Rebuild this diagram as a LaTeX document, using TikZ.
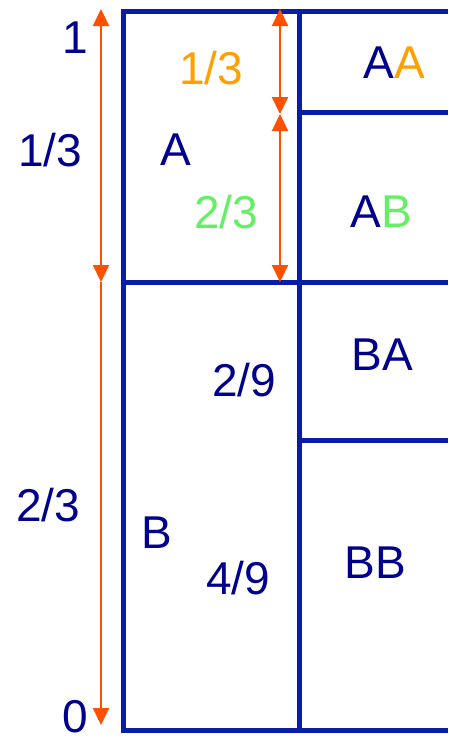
\documentclass[tikz,border=0pt]{standalone}
\usepackage{fontspec}
\setmainfont{Liberation Sans}
\usetikzlibrary{arrows.meta}
\definecolor{gridblue}{RGB}{10,30,165}
\definecolor{txtblue}{RGB}{0,0,140}
\definecolor{arr}{RGB}{255,80,0}
\definecolor{orng}{RGB}{255,160,0}
\definecolor{grn}{RGB}{100,240,100}
\tikzset{
  grid/.style={draw=gridblue, line width=5pt},
  meas/.style={draw=arr, line width=2.2pt, {Triangle[width=16pt,length=17pt]}-{Triangle[width=16pt,length=17pt]}},
  measdown/.style={draw=arr, line width=2.2pt, -{Triangle[width=16pt,length=17pt]}},
  lbl/.style={text=txtblue, font=\fontsize{46}{50}\selectfont, inner sep=0pt}
}
\begin{document}
\begin{tikzpicture}[x=1pt,y=-1pt]
\useasboundingbox (0,0) rectangle (448,742);
% grid coordinates
\coordinate (tl) at (123,11);
\coordinate (tr) at (448,11);
\coordinate (bl) at (123,730);
\coordinate (br) at (448,730);
\coordinate (mt) at (299.5,11);
\coordinate (mb) at (299.5,730);
\coordinate (hl) at (123,282);
\coordinate (hr) at (448,282);
\coordinate (h1l) at (299.5,112);
\coordinate (h1r) at (448,112);
\coordinate (h2l) at (299.5,440);
\coordinate (h2r) at (448,440);
\draw[grid] (tr) -- (tl) -- (bl) -- (br);
\draw[grid] (mt) -- (mb);
\draw[grid] (hl) -- (hr);
\draw[grid] (h1l) -- (h1r);
\draw[grid] (h2l) -- (h2r);
% measure arrows
\coordinate (a0) at (101,9);
\coordinate (a1) at (101,282);
\coordinate (a2) at (101,725);
\coordinate (b0) at (280,9);
\coordinate (b1) at (280,114);
\coordinate (b2) at (280,282);
\draw[meas] (a0) -- (a1);
\draw[measdown] (a1) -- (a2);
\draw[meas] (b0) -- (b1);
\draw[meas] (b1) -- (b2);
% labels
\node[lbl] (one) at (75,38) {1};
\node[lbl] (third) at (50,150) {1/3};
\node[lbl] (twothird) at (48,505) {2/3};
\node[lbl] (zero) at (75,717) {0};
\node[lbl, text=orng] (pa) at (211,68) {1/3};
\node[lbl] (A) at (176,150) {A};
\node[lbl, text=grn] (pb) at (226,212) {2/3};
\node[lbl] (AA) at (394,63) {A\textcolor{orng}{A}};
\node[lbl] (AB) at (381,212) {A\textcolor{grn}{B}};
\node[lbl] (p29) at (244,380) {2/9};
\node[lbl] (BA) at (382,355) {BA};
\node[lbl] (B) at (157,533) {B};
\node[lbl] (p49) at (238,578) {4/9};
\node[lbl] (BB) at (375,563) {BB};
\end{tikzpicture}
\end{document}
